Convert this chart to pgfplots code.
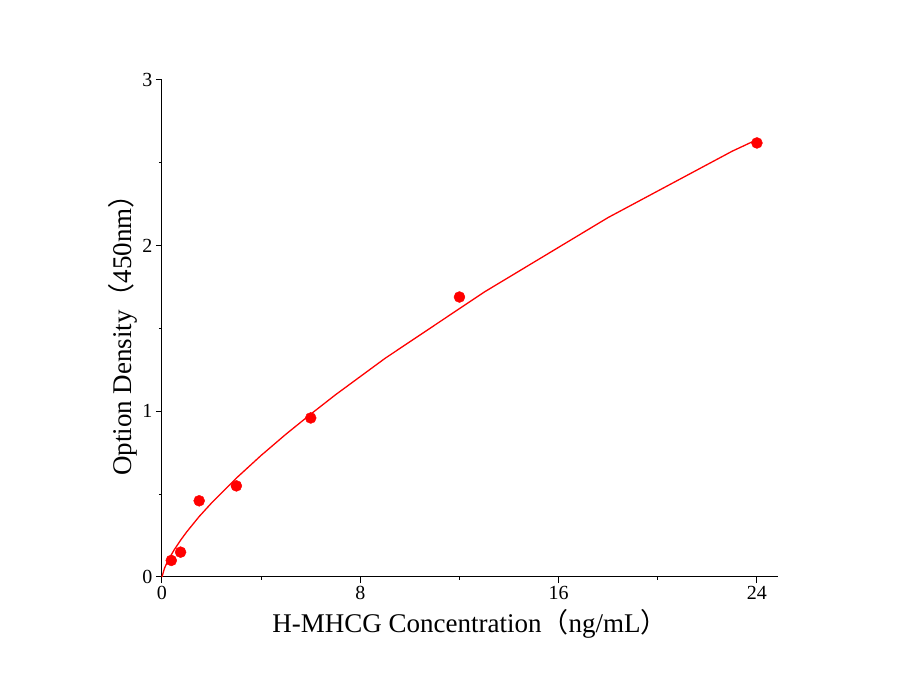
\documentclass[border=0pt]{standalone}
\usepackage{pgfplots}
\pgfplotsset{compat=1.18}
\usepackage{fontspec}
\setmainfont{Liberation Serif}
\newfontfamily\cjk{Noto Sans CJK SC}
\begin{document}
\begin{tikzpicture}
\begin{axis}[scale only axis, width=616pt, height=497pt,
  at={(0,0)}, anchor=south west,
  xmin=0, xmax=24.85, ymin=0, ymax=3,
  axis x line*=bottom, axis y line*=left,
  axis line style={line width=1pt},
  xtick={0,8,16,24}, minor xtick={4,12,20},
  ytick={0,1,2,3}, minor ytick={0.5,1.5,2.5},
  tick align=outside, major tick length=6pt, minor tick length=3pt,
  tick style={line width=1pt, black},
  ticklabel style={font=\fontsize{20}{24}\selectfont},
  /pgf/number format/assume math mode=true,
  xlabel={H-MHCG Concentration{\cjk （}ng/mL{\cjk ）}},
  ylabel={Option Density{\cjk （}450nm{\cjk ）}},
  label style={font=\fontsize{27}{32}\selectfont},
  xlabel style={yshift=-2pt},
  ylabel style={yshift=-2pt},
  clip=false]
\addplot[red, line width=1.3pt] coordinates {
 (0,0) (0.1,0.053) (0.25,0.102) (0.5,0.166) (0.75,0.222) (1,0.273) (1.5,0.365) (2,0.447)
 (3,0.597) (4,0.734) (5,0.862) (6,0.983) (7,1.10) (8,1.21) (9,1.32) (10,1.42) (11,1.52)
 (12,1.62) (13,1.72) (14,1.81) (15,1.90) (16,1.99) (17,2.08) (18,2.17) (19,2.25)
 (20,2.33) (21,2.41) (22,2.49) (23,2.57) (24,2.64)};
\addplot[only marks, mark=*, mark size=5.5pt, red] coordinates {
 (0.375,0.10) (0.75,0.15) (1.5,0.46) (3,0.55) (6,0.96) (12,1.69) (24,2.62)};
\end{axis}
\path[use as bounding box] (-162pt,-116pt) rectangle (743pt,577pt);
\end{tikzpicture}
\end{document}
